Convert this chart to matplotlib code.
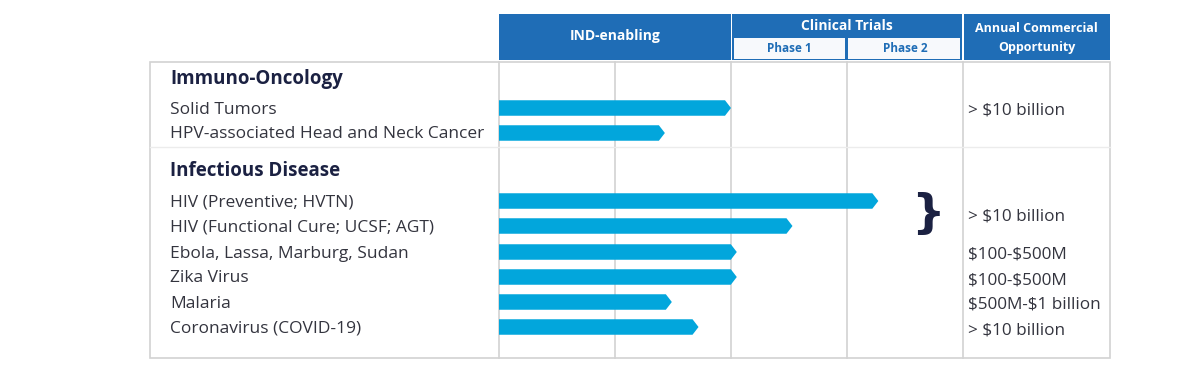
import matplotlib.pyplot as plt
from matplotlib.patches import Polygon, Rectangle

plt.rcParams['font.family'] = ['Open Sans', 'DejaVu Sans']
plt.rcParams['text.parse_math'] = False

# data
groups = ["Immuno-Oncology", "Infectious Disease"]
programs = ["Solid Tumors", "HPV-associated Head and Neck Cancer",
            "HIV (Preventive; HVTN)", "HIV (Functional Cure; UCSF; AGT)",
            "Ebola, Lassa, Marburg, Sudan", "Zika Virus", "Malaria",
            "Coronavirus (COVID-19)"]
group_of = [0, 0, 1, 1, 1, 1, 1, 1]
# progress in stage columns: 0-2 IND-enabling, 2-3 Phase 1, 3-4 Phase 2
progress = [2.0, 1.43, 3.27, 2.53, 2.05, 2.05, 1.49, 1.72]
market_labels = ["> $10 billion", "> $10 billion", "$100-$500M", "$100-$500M",
                 "$500M-$1 billion", "> $10 billion"]
market_rows = [[0], [2, 3], [4], [5], [6], [7]]
stages = ["IND-enabling", "Phase 1", "Phase 2"]

# layout (pixel rows of the 1200x373 image)
W, H = 1200, 373
unit = 116.0
x0 = 499
row_y = [108, 133, 201, 226, 252, 277, 302, 327]
group_y = [79, 171]

BLUE = "#1f6db6"
BAR = "#02a6dc"
GRID = "#d2d2d2"
NAVY = "#1b2142"
TXT = "#33343e"


def X(px):
    return (px - x0) / unit


fig = plt.figure(figsize=(12, 3.73), dpi=100)
ax = fig.add_axes([0, 0, 1, 1])
ax.set_xlim(X(0), X(W))
ax.set_ylim(H, 0)
ax.axis('off')

# table frame
top, bot = 62, 358
ax.add_patch(Rectangle((X(150), top), X(1110) - X(150), bot - top,
                       fill=False, ec=GRID, lw=1.2, zorder=1))
for gx in [0, 1, 2, 3, 4]:
    ax.plot([gx, gx], [top, bot], color=GRID, lw=1.2, zorder=1)
ax.plot([X(150), X(1110)], [147, 147], color="#ececec", lw=1, zorder=1)

# header
hy0, hy1 = 14, 60
ax.add_patch(Rectangle((0, hy0), 2, hy1 - hy0, color=BLUE, lw=0, zorder=2))
ax.add_patch(Rectangle((2.01, hy0), 1.98, hy1 - hy0, color=BLUE, lw=0, zorder=2))
ax.add_patch(Rectangle((4.01, hy0), X(1110) - 4.01, hy1 - hy0, color=BLUE, lw=0, zorder=2))
ax.add_patch(Rectangle((2.025, 38), 0.96, 20.5, color="#f7f9fc", lw=0, zorder=3))
ax.add_patch(Rectangle((3.01, 38), 0.965, 20.5, color="#f7f9fc", lw=0, zorder=3))

ax.text(1.0, 36, stages[0], color="white", fontsize=10, fontweight='bold',
        ha='center', va='center', zorder=4)
ax.text(3.0, 26, "Clinical Trials", color="white", fontsize=10, fontweight='bold',
        ha='center', va='center', zorder=4)
ax.text(2.5, 48, stages[1], color=BLUE, fontsize=8.5, fontweight='bold',
        ha='center', va='center', zorder=4)
ax.text(3.5, 48, stages[2], color=BLUE, fontsize=8.5, fontweight='bold',
        ha='center', va='center', zorder=4)
ax.text((4 + X(1110)) / 2, 29, "Annual Commercial", color="white", fontsize=9,
        fontweight='bold', ha='center', va='center', zorder=4)
ax.text((4 + X(1110)) / 2, 47, "Opportunity", color="white", fontsize=9,
        fontweight='bold', ha='center', va='center', zorder=4)

# group headings and labels
for g, gy in zip(groups, group_y):
    ax.text(X(170), gy, g, color=NAVY, fontsize=13.5, fontweight='bold',
            ha='left', va='center')
for p, ry in zip(programs, row_y):
    ax.text(X(170), ry + 1.5, p, color=TXT, fontsize=12.5, fontweight=500,
            ha='left', va='center')

# bars with arrow tips
bh = 15.5
tip = 6 / unit
for v, ry in zip(progress, row_y):
    pts = [(0, ry - bh / 2), (v - tip, ry - bh / 2), (v, ry),
           (v - tip, ry + bh / 2), (0, ry + bh / 2)]
    ax.add_patch(Polygon(pts, closed=True, color=BAR, lw=0, zorder=3))

# market opportunity
for lab, rows in zip(market_labels, market_rows):
    my = sum(row_y[r] for r in rows) / len(rows) + 3
    ax.text(X(968), my, lab, color=TXT, fontsize=12.3, fontweight=500,
            ha='left', va='center')
ax.text(X(928), (row_y[2] + row_y[3]) / 2 + 1, "}", color=NAVY, fontsize=34,
        fontweight='bold', ha='center', va='center', fontfamily='DejaVu Sans')

fig.savefig("out.png", dpi=100)
